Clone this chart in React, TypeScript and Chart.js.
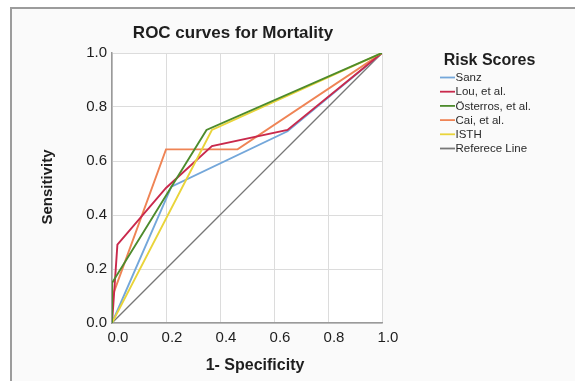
import React, { useEffect, useRef } from "react";
import { Chart, registerables } from "chart.js";

Chart.register(...registerables);

const seriesNames = ["Sanz", "Lou, et al.", "Österros, et al.", "Cai, et al.", "ISTH", "Referece Line"];
const seriesColors = ["#74a7da", "#c9294c", "#4d8b2c", "#ef8455", "#e9d43a", "#777777"];

const sanzX = [0, 0.22, 0.65, 1];
const sanzY = [0, 0.505, 0.71, 1];
const louX = [0, 0.005, 0.02, 0.2, 0.37, 0.65, 1];
const louY = [0, 0.07, 0.29, 0.5, 0.655, 0.715, 1];
const osterrosX = [0, 0, 0.35, 1];
const osterrosY = [0, 0.148, 0.715, 1];
const caiX = [0, 0, 0.2, 0.465, 1];
const caiY = [0, 0.095, 0.643, 0.643, 1];
const isthX = [0, 0.37, 1];
const isthY = [0, 0.715, 1];
const refX = [0, 1];
const refY = [0, 1];

const xTicks = [0, 0.2, 0.4, 0.6, 0.8, 1.0];
const yTicks = [0, 0.2, 0.4, 0.6, 0.8, 1.0];

const chartTitle = "ROC curves for Mortality";
const xTitle = "1- Specificity";
const yTitle = "Sensitivity";
const legendTitle = "Risk Scores";

const FONT = "'Liberation Sans', Arial, Helvetica, sans-serif";

function pts(xs: number[], ys: number[]) {
  return xs.map((x, i) => ({ x, y: ys[i] }));
}

const textPlugin = {
  id: "customText",
  beforeDraw(chart: any) {
    const { ctx, chartArea } = chart;
    ctx.save();
    ctx.fillStyle = "#ffffff";
    ctx.fillRect(chartArea.left, chartArea.top, chartArea.right - chartArea.left, chartArea.bottom - chartArea.top);
    ctx.restore();
  },
  afterDraw(chart: any) {
    const { ctx } = chart;
    ctx.save();
    ctx.fillStyle = "#1e1e1e";
    ctx.textBaseline = "middle";
    ctx.textAlign = "center";
    ctx.font = `bold 17px ${FONT}`;
    ctx.fillText(chartTitle, 233, 33);
    ctx.font = `bold 16px ${FONT}`;
    ctx.fillText(xTitle, 255, 366);
    ctx.save();
    ctx.translate(48, 187);
    ctx.rotate(-Math.PI / 2);
    ctx.font = `bold 15px ${FONT}`;
    ctx.fillText(yTitle, 0, 0);
    ctx.restore();
    // legend
    ctx.font = `bold 16px ${FONT}`;
    ctx.textAlign = "center";
    ctx.fillText(legendTitle, 489.5, 61);
    ctx.font = `11.5px ${FONT}`;
    ctx.textAlign = "left";
    chart.data.datasets.forEach((ds: any, i: number) => {
      const y = 77.5 + i * 14.2;
      ctx.strokeStyle = ds.borderColor;
      ctx.lineWidth = 1.8;
      ctx.beginPath();
      ctx.moveTo(440, y);
      ctx.lineTo(455, y);
      ctx.stroke();
      ctx.fillStyle = "#2a2a2a";
      ctx.fillText(ds.label, 455.5, y + 0.5);
    });
    ctx.restore();
  },
};

export default function App() {
  const ref = useRef<HTMLCanvasElement | null>(null);
  useEffect(() => {
    document.body.style.margin = "0";
    const canvas = ref.current;
    if (!canvas) return;
    const xsList = [sanzX, louX, osterrosX, caiX, isthX, refX];
    const ysList = [sanzY, louY, osterrosY, caiY, isthY, refY];
    const datasets = seriesNames.map((name, i) => ({
      label: name,
      data: pts(xsList[i], ysList[i]),
      borderColor: seriesColors[i],
      backgroundColor: seriesColors[i],
      borderWidth: i === 5 ? 1.3 : 1.9,
      pointRadius: 0,
      fill: false,
      tension: 0,
    }));
    const ordered = [datasets[5], datasets[0], datasets[3], datasets[1], datasets[4], datasets[2]];
    ordered.forEach((d: any, k) => (d.order = 6 - k));
    const chart = new Chart(canvas, {
      type: "line",
      data: { datasets },
      plugins: [textPlugin],
      options: {
        animation: false,
        responsive: false,
        maintainAspectRatio: false,
        layout: { padding: { left: 0, right: 193, top: 53, bottom: 0 } },
        plugins: {
          legend: { display: false },
          title: { display: false },
          tooltip: { enabled: false },
        },
        scales: {
          x: {
            type: "linear",
            min: 0,
            max: 1,
            afterFit: (s: any) => {
              s.height = 58;
            },
            afterBuildTicks: (s: any) => {
              s.ticks = xTicks.map((v) => ({ value: v }));
            },
            ticks: {
              padding: 6,
              labelOffset: 6,
              color: "#1e1e1e",
              font: { family: FONT, size: 15 },
              callback: (v: any) => Number(v).toFixed(1),
              maxRotation: 0,
            },
            grid: { color: "#dcdcdc", lineWidth: 1, drawTicks: false },
            border: { color: "#9a9a9a", width: 1.5 },
          },
          y: {
            type: "linear",
            min: 0,
            max: 1,
            afterFit: (s: any) => {
              s.width = 112;
            },
            afterBuildTicks: (s: any) => {
              s.ticks = yTicks.map((v) => ({ value: v }));
            },
            ticks: {
              padding: 5,
              color: "#1e1e1e",
              font: { family: FONT, size: 15 },
              callback: (v: any) => Number(v).toFixed(1),
            },
            grid: { color: "#dcdcdc", lineWidth: 1, drawTicks: false },
            border: { color: "#9a9a9a", width: 1.5 },
          },
        },
      },
    });
    return () => chart.destroy();
  }, []);
  return (
    <div style={{ position: "absolute", left: 0, top: 0, width: 575, height: 381, background: "#ffffff", overflow: "hidden" }}>
      <div
        style={{
          position: "absolute",
          left: 10,
          top: 7,
          width: 600,
          height: 400,
          borderLeft: "2px solid #9c9c9c",
          borderTop: "2px solid #9c9c9c",
          background: "#fafafa",
        }}
      />
      <canvas ref={ref} width={575} height={381} style={{ position: "absolute", left: 0, top: 0, width: 575, height: 381 }} />
    </div>
  );
}
